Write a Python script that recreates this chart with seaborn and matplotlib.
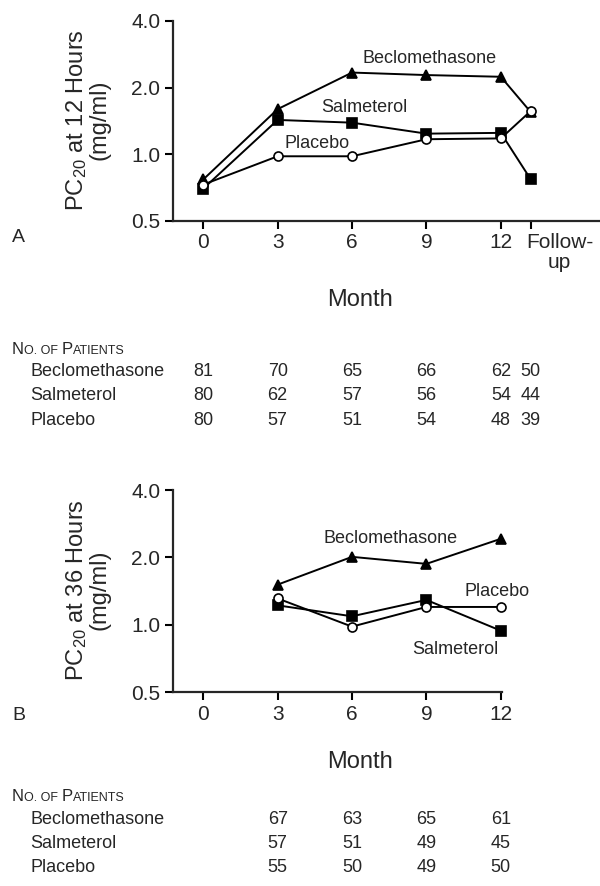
import matplotlib
matplotlib.use("Agg")
import matplotlib.pyplot as plt
import matplotlib.transforms as mtransforms
from matplotlib import font_manager
import seaborn as sns

# data (PC20, mg/ml, log scale)
months_a = [0, 3, 6, 9, 12]
beclo_a = [0.77, 1.60, 2.34, 2.28, 2.24, 1.55]
salm_a = [0.70, 1.43, 1.39, 1.24, 1.25, 0.77]
plac_a = [0.73, 0.98, 0.98, 1.17, 1.18, 1.57]

months_b = [3, 6, 9, 12]
beclo_b = [1.51, 2.01, 1.87, 2.42]
salm_b = [1.22, 1.09, 1.29, 0.94]
plac_b = [1.31, 0.98, 1.20, 1.20]

groups = ["Beclomethasone", "Salmeterol", "Placebo"]
n_a = [[81, 70, 65, 66, 62, 50],
       [80, 62, 57, 56, 54, 44],
       [80, 57, 51, 54, 48, 39]]
n_b = [[67, 63, 65, 61],
       [57, 51, 49, 45],
       [55, 50, 49, 50]]

yticks = [0.5, 1.0, 2.0, 4.0]
ytick_labels = ["0.5", "1.0", "2.0", "4.0"]

sns.set_style("ticks")
names = {f.name for f in font_manager.fontManager.ttflist}
main_font = "Liberation Sans" if "Liberation Sans" in names else "DejaVu Sans"
plt.rcParams["font.family"] = [main_font, "DejaVu Sans"]
plt.rcParams["mathtext.default"] = "regular"

W, H = 600, 886
fig = plt.figure(figsize=(W / 100, H / 100), dpi=100)

def px(x, y):
    return x / W, 1 - y / H

fu_pos = 13.21  # where the follow-up column sits on the month axis
styles = {"Beclomethasone": dict(marker="^", ms=7.5, mfc="black"),
          "Salmeterol": dict(marker="s", ms=6.5, mfc="black"),
          "Placebo": dict(marker="o", ms=6.5, mfc="white")}

def setup_axes(ax, right):
    ax.set_yscale("log", base=2)
    ax.set_ylim(0.5, 4.0)
    ax.set_xlim(-1.22, right)
    ax.set_yticks(yticks)
    ax.set_yticklabels(ytick_labels)
    ax.minorticks_off()
    sns.despine(ax=ax)
    for s in ["left", "bottom"]:
        ax.spines[s].set_linewidth(1.6)
    ax.tick_params(width=1.5, length=6, labelsize=15, pad=3, color="black")
    ax.set_facecolor("none")

def draw(ax, xs, series):
    for name, vals in zip(groups, series):
        st = styles[name]
        sns.lineplot(x=xs, y=vals, ax=ax, color="black", lw=1.4,
                     marker=st["marker"], markersize=st["ms"],
                     markerfacecolor=st["mfc"], markeredgecolor="black",
                     markeredgewidth=1.2, zorder=3, clip_on=False)

# ---- panel A
axA = fig.add_axes([173 / W, 1 - 221 / H, 427 / W, 200 / H])
setup_axes(axA, 16.0)
draw(axA, months_a + [fu_pos], [beclo_a, salm_a, plac_a])
axA.set_xticks(months_a + [fu_pos])
axA.set_xticklabels([str(m) for m in months_a] + ["Follow-\nup"])
tl = axA.get_xticklabels()[-1]
tl.set_horizontalalignment("left")
tl.set_multialignment("center")
tl.set_linespacing(1.0)
tl.set_transform(tl.get_transform() + mtransforms.ScaledTranslation(-5 / 100, 0, fig.dpi_scale_trans))
axA.set_xlabel("")
lab = dict(fontsize=13, ha="center", va="center")
axA.text(9.11, 2.72, "Beclomethasone", **lab)
axA.text(6.49, 1.62, "Salmeterol", **lab)
axA.text(4.57, 1.125, "Placebo", **lab)

# ---- panel B
axB = fig.add_axes([173 / W, 1 - 692 / H, 329 / W, 202 / H])
setup_axes(axB, 12.05)
draw(axB, months_b, [beclo_b, salm_b, plac_b])
axB.set_xticks([0, 3, 6, 9, 12])
axB.set_xticklabels(["0", "3", "6", "9", "12"])
axB.text(7.56, 2.42, "Beclomethasone", **lab)
axB.text(11.86, 1.40, "Placebo", **lab)
axB.text(10.15, 0.771, "Salmeterol", **lab)

# y labels, panel letters, x titles
for (cy, hrs) in [(120, 12), (590, 36)]:
    fig.text(*px(87, cy), "PC$_{20}$ at %d Hours\n(mg/ml)" % hrs, rotation=90,
             ha="center", va="center", multialignment="center",
             fontsize=17, linespacing=0.95)
fig.text(*px(12, 237), "A", fontsize=14, va="center")
fig.text(*px(12, 715), "B", fontsize=14, va="center")
fig.text(*px(360, 300), "Month", fontsize=17, ha="center", va="center")
fig.text(*px(360, 762), "Month", fontsize=17, ha="center", va="center")

# patient count tables
def small_caps_header(y):
    parts = [("N", 12), ("O. OF ", 9), ("P", 12), ("ATIENTS", 9)]
    prev = None
    for s, size in parts:
        if prev is None:
            prev = fig.text(*px(12, y), s, fontsize=size, va="baseline")
        else:
            prev = plt.annotate(s, xy=(1, 0), xycoords=prev, fontsize=size,
                                va="bottom", ha="left", annotation_clip=False)

def table(ax, y0, xs, counts):
    small_caps_header(y0 + 6)
    for i, (name, row) in enumerate(zip(groups, counts)):
        y = y0 + 24 * (i + 1)
        fig.text(*px(30, y), name, fontsize=13, va="center")
        for x, n in zip(xs, row):
            xd = ax.transData.transform((x, 1.0))[0]
            fig.text(xd / W, 1 - y / H, str(n), fontsize=13, ha="center", va="center")

fig.canvas.draw()
table(axA, 348, months_a + [fu_pos], n_a)
table(axB, 795, months_b, n_b)

fig.savefig("out.png", dpi=100)
